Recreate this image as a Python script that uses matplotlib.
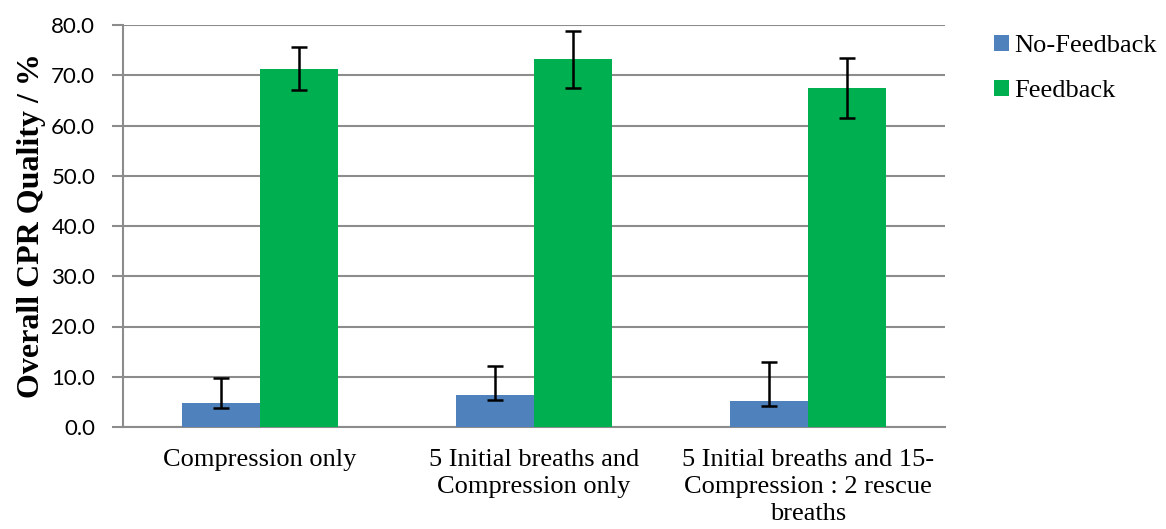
import numpy as np
import matplotlib
matplotlib.use('Agg')
import matplotlib.pyplot as plt

# data
categories = ['Compression only',
              '5 Initial breaths and\nCompression only',
              '5 Initial breaths and 15-\nCompression : 2 rescue\nbreaths']
no_feedback = [4.7, 6.4, 5.2]
no_feedback_lo = [3.7, 5.4, 4.2]
no_feedback_hi = [9.8, 12.1, 12.9]
feedback = [71.2, 73.2, 67.5]
feedback_lo = [67.1, 67.5, 61.5]
feedback_hi = [75.6, 78.9, 73.4]

blue = '#4f81bd'
green = '#00b050'
grid_col = '#8c8c8c'

fig = plt.figure(figsize=(11.66, 5.29), dpi=100)
ax = fig.add_axes([123/1166, 1 - 427/529, (945 - 123)/1166, (427 - 25)/529])

x = np.arange(len(categories))
w = 0.285

err_nf = [np.array(no_feedback) - np.array(no_feedback_lo),
          np.array(no_feedback_hi) - np.array(no_feedback)]
err_f = [np.array(feedback) - np.array(feedback_lo),
         np.array(feedback_hi) - np.array(feedback)]

ekw = dict(ecolor='black', elinewidth=1.8, capsize=6, capthick=1.8)
ax.bar(x - w/2, no_feedback, w, color=blue, label='No-Feedback', yerr=err_nf,
       error_kw=ekw, zorder=3)
ax.bar(x + w/2, feedback, w, color=green, label='Feedback', yerr=err_f,
       error_kw=ekw, zorder=3)

ax.set_xlim(-0.5, 2.5)
ax.set_ylim(0, 80)
ax.set_yticks(np.arange(0, 81, 10))
ax.set_yticklabels(['%.1f' % v for v in np.arange(0, 81, 10)],
                   fontsize=16, family='Lato')
ax.yaxis.grid(True, color=grid_col, linewidth=1.5, zorder=0)
ax.set_axisbelow(True)

ax.set_xticks(x)
ax.set_xticklabels(categories, fontsize=19, family='Liberation Serif',
                   linespacing=1.3)
ax.tick_params(axis='x', length=0, pad=16)
ax.tick_params(axis='y', length=8, color=grid_col, width=1.5, pad=12)

for s in ['top', 'right']:
    ax.spines[s].set_visible(False)
for s in ['left', 'bottom']:
    ax.spines[s].set_color(grid_col)
    ax.spines[s].set_linewidth(1.5)

ax.set_ylabel('Overall CPR Quality / %', fontsize=23, family='Liberation Serif',
              fontweight='bold', labelpad=4)

fig.legend(loc='upper left', bbox_to_anchor=(994/1166, 1 - 35/529),
           frameon=False, prop={'family': 'Liberation Serif', 'size': 19},
           handlelength=0.55, handleheight=0.55, handletextpad=0.2,
           labelspacing=0.85, borderaxespad=0, borderpad=0)

fig.savefig('out.png', dpi=100)
